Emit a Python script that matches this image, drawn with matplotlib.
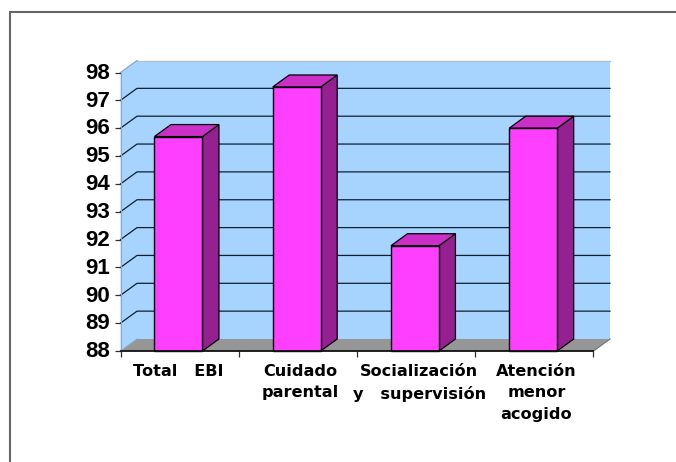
import matplotlib
matplotlib.use("Agg")
import matplotlib.pyplot as plt
from matplotlib.patches import Polygon, Rectangle
from matplotlib.transforms import ScaledTranslation

categories = ["Total   EBI", "Cuidado\nparental", "Socialización\ny   supervisión", "Atención\nmenor\nacogido"]
values = [95.7, 97.48, 91.78, 96.0]
y_ticks = list(range(88, 99))

W, H = 676, 462
L, R, T, B = 120.5, 593.5, 72.5, 351.0
DX_PX, DY_PX = 16.5, 12.0
WALL, FLOOR = "#A6D4FF", "#969696"
FRONT, TOP, SIDE = "#FF3FFF", "#CC2FC8", "#95208F"

fig = plt.figure(figsize=(W / 100, H / 100), dpi=100, facecolor="white")
ax = fig.add_axes([L / W, 1 - B / H, (R - L) / W, (B - T) / H])
ax.set_xlim(0, len(categories))
ax.set_ylim(y_ticks[0], y_ticks[-1])
ax.patch.set_alpha(0)

dx = DX_PX * len(categories) / (R - L)
dy = DY_PX * (y_ticks[-1] - y_ticks[0]) / (B - T)
x0, x1, y0, y1 = 0, len(categories), y_ticks[0], y_ticks[-1]

def poly(pts, fc, ec="none", lw=0, z=1):
    ax.add_patch(Polygon(pts, closed=True, fc=fc, ec=ec, lw=lw, zorder=z, clip_on=False, joinstyle="miter"))

# walls and floor
poly([(x0 + dx, y0 + dy), (x1 + dx, y0 + dy), (x1 + dx, y1 + dy), (x0 + dx, y1 + dy)], WALL)
poly([(x0, y0), (x0 + dx, y0 + dy), (x0 + dx, y1 + dy), (x0, y1)], WALL)
poly([(x0, y0), (x1, y0), (x1 + dx, y0 + dy), (x0 + dx, y0 + dy)], FLOOR)
ax.plot([x1, x1 + dx], [y0, y0 + dy], color="#707070", lw=0.8, zorder=1.2, clip_on=False)
ax.plot([x0, x0 + dx], [y1, y1 + dy], color="#8FA8C4", lw=0.9, zorder=1.2, clip_on=False)
ax.plot([x0 + dx, x1 + dx], [y1 + dy, y1 + dy], color="#B5BFCB", lw=1.0, zorder=1.2, clip_on=False)
ax.plot([x0, x0 + dx], [y0, y0 + dy], color="#8FA8C4", lw=0.8, zorder=1.2, clip_on=False)

# gridlines
for v in y_ticks[1:-1]:
    ax.plot([x0, x0 + dx, x1 + dx], [v, v + dy, v + dy], color="#10202E", lw=0.9, zorder=1.5, clip_on=False)

# bars
bar_w = 48 * len(categories) / (R - L)
centers = [i + 0.49 for i in range(len(categories))]
ax.bar(centers, [v - y0 for v in values], width=bar_w, bottom=y0, color=FRONT,
       edgecolor="black", linewidth=1.0, zorder=3, clip_on=False)
for c, v in zip(centers, values):
    l, r = c - bar_w / 2, c + bar_w / 2
    poly([(r, y0), (r + dx, y0 + dy), (r + dx, v + dy), (r, v)], SIDE, "black", 0.9, 2.8)
    poly([(l, v), (r, v), (r + dx, v + dy), (l + dx, v + dy)], TOP, "black", 0.9, 2.8)

# axes
for s in ("top", "right"):
    ax.spines[s].set_visible(False)
ax.spines["left"].set_color("#8FA8C4")
ax.spines["left"].set_linewidth(0.8)
ax.spines["bottom"].set_color("#101010")
ax.spines["bottom"].set_linewidth(1.3)
ax.spines["bottom"].set_zorder(4)
ax.set_yticks(y_ticks)
ax.set_yticklabels([str(v) for v in y_ticks], fontfamily="Liberation Sans", fontweight="bold", fontsize=16)
ax.tick_params(axis="y", length=4.3, width=0.9, color="#303030", pad=3)
up = ScaledTranslation(0, 1.7 / 100, fig.dpi_scale_trans)
for lab in ax.get_yticklabels():
    lab.set_transform(lab.get_transform() + up)
ax.set_xticks(range(len(categories) + 1))
ax.set_xticklabels([""] * (len(categories) + 1))
ax.tick_params(axis="x", which="major", length=4.3, width=0.9, color="#303030")
ax.set_xticks([i + 0.5 for i in range(len(categories))], minor=True)
ax.set_xticklabels(categories, minor=True, fontfamily="DejaVu Sans", fontweight="bold",
                   fontsize=11.6, linespacing=1.56, va="top")
ax.tick_params(axis="x", which="minor", length=0, pad=9.2)
label_shift_px = [-1, 2, 3, 2]
for lab, s in zip(ax.get_xticklabels(minor=True), label_shift_px):
    lab.set_transform(lab.get_transform() + ScaledTranslation(s / 100, 0, fig.dpi_scale_trans))

# outer frame, running off the right and bottom edges
fig.add_artist(Rectangle((9.8 / W, -0.05), 1, (1 - 12.3 / H) + 0.05, transform=fig.transFigure,
                         fc="none", ec="#666666", lw=1.5))

fig.savefig("out.png", dpi=100, facecolor="white")
